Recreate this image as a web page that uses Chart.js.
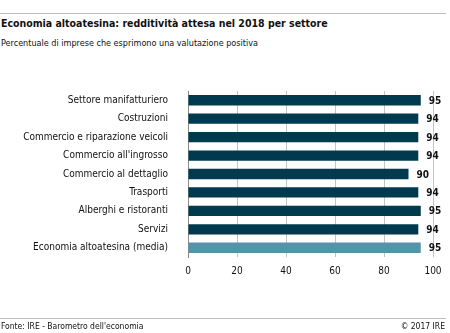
<!DOCTYPE html>
<html>
<head>
<meta charset="utf-8">
<script src="https://cdn.jsdelivr.net/npm/chart.js@4"></script>
<style>
  body { margin: 0; background: #fff; }
  #wrap { position: relative; width: 450px; height: 333px; font-family: "DejaVu Sans Condensed", "DejaVu Sans", sans-serif; color: #111; }
  .rule { position: absolute; left: 0; width: 446px; height: 1px; background: #bdbdbd; }
  .txt { position: absolute; white-space: nowrap; }
  canvas { position: absolute; left: 0; top: 0; }
</style>
</head>
<body>
<div id="wrap">
  <div class="rule" style="top:13px"></div>
  <div class="txt" style="left:1px; top:17px; font-size:10.5px; font-weight:bold;">Economia altoatesina: redditività attesa nel 2018 per settore</div>
  <div class="txt" style="left:1px; top:38px; font-size:9px;">Percentuale di imprese che esprimono una valutazione positiva</div>
  <canvas id="myChart" width="450" height="333"></canvas>
  <div class="rule" style="top:318px"></div>
  <div class="txt" style="left:1px; top:321px; font-size:8.5px;">Fonte: IRE - Barometro dell'economia</div>
  <div class="txt" style="right:5px; top:321px; font-size:8.5px;">© 2017 IRE</div>
</div>
<script>
// Data
const sectors = [
  'Settore manifatturiero',
  'Costruzioni',
  'Commercio e riparazione veicoli',
  "Commercio all'ingrosso",
  'Commercio al dettaglio',
  'Trasporti',
  'Alberghi e ristoranti',
  'Servizi',
  'Economia altoatesina (media)'
];
const values = [95, 94, 94, 94, 90, 94, 95, 94, 95];
const xTicks = [0, 20, 40, 60, 80, 100];

const barColors = sectors.map((s, i) => i === sectors.length - 1 ? '#5593a9' : '#003a4e');

// value labels next to each bar
const valueLabels = {
  id: 'valueLabels',
  afterDatasetsDraw(chart) {
    const ctx = chart.ctx;
    const meta = chart.getDatasetMeta(0);
    ctx.save();
    ctx.font = 'bold 10px "DejaVu Sans Condensed", "DejaVu Sans", sans-serif';
    ctx.fillStyle = '#111';
    ctx.textAlign = 'left';
    ctx.textBaseline = 'middle';
    meta.data.forEach((bar, i) => {
      ctx.fillText(values[i], bar.x + 8, bar.y + 1);
    });
    ctx.restore();
  }
};

const ctx = document.getElementById('myChart').getContext('2d');
const myChart = new Chart(ctx, {
  type: 'bar',
  data: {
    labels: sectors,
    datasets: [{
      data: values,
      backgroundColor: barColors,
      barPercentage: 0.56,
      categoryPercentage: 1
    }]
  },
  options: {
    indexAxis: 'y',
    responsive: false,
    animation: false,
    layout: { padding: { top: 91, right: 17, bottom: 0, left: 0 } },
    plugins: { legend: { display: false }, tooltip: { enabled: false } },
    scales: {
      x: {
        min: 0,
        max: 100,
        afterBuildTicks(scale) { scale.ticks = xTicks.map(v => ({ value: v })); },
        afterFit(scale) { scale.height = 76; },
        grid: { color: '#c4c4c4', drawTicks: false },
        border: { display: false },
        ticks: {
          padding: 8,
          color: '#111',
          font: { family: '"DejaVu Sans Condensed", "DejaVu Sans", sans-serif', size: 10 }
        }
      },
      y: {
        afterFit(scale) { scale.width = 188; },
        grid: { display: false, drawTicks: false },
        border: { display: true, color: '#8a8a8a' },
        ticks: {
          padding: 20,
          color: '#111',
          font: { family: '"DejaVu Sans Condensed", "DejaVu Sans", sans-serif', size: 10 }
        }
      }
    }
  },
  plugins: [valueLabels]
});
</script>
</body>
</html>
